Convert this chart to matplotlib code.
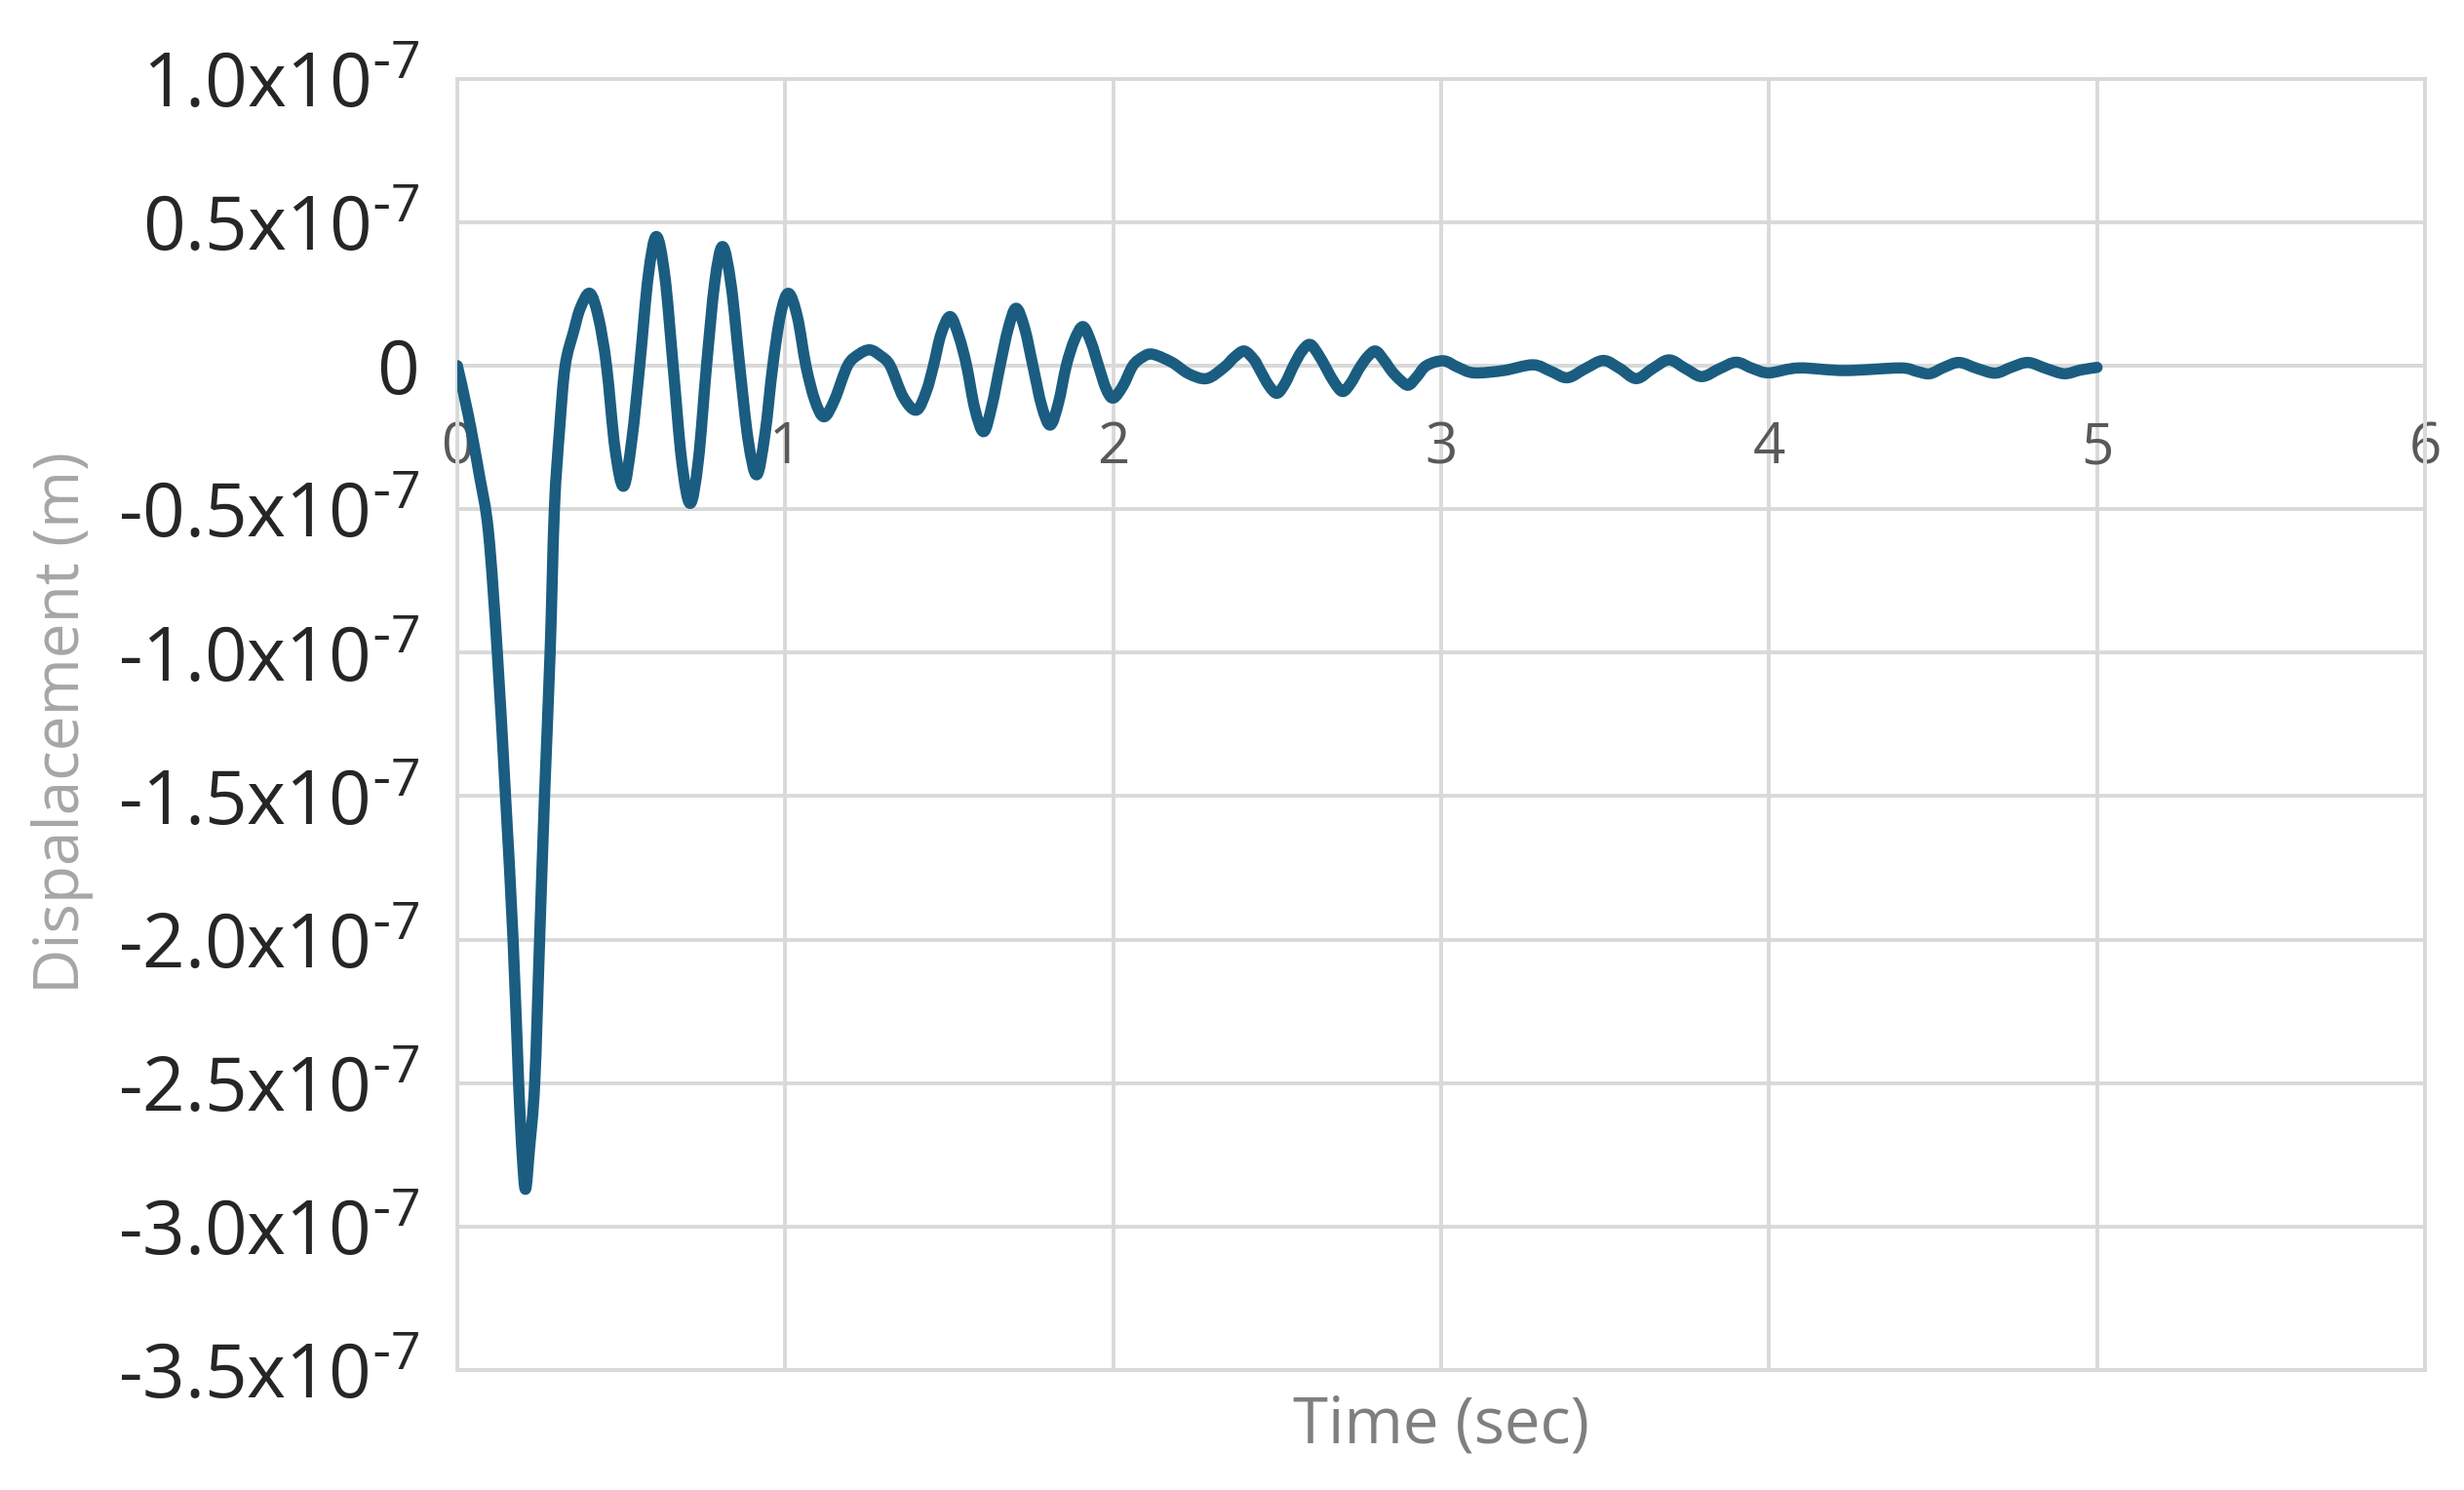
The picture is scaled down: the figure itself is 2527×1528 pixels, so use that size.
import numpy as np
import matplotlib
matplotlib.use("Agg")
import matplotlib.pyplot as plt
from matplotlib.path import Path
from matplotlib.patches import PathPatch

plt.rcParams['font.family'] = ['Open Sans', 'DejaVu Sans']
plt.rcParams['mathtext.default'] = 'regular'

# ---- data (displacement in units of 1e-7 m) ----
time_s = [
    0.000, 0.033, 0.067, 0.095, 0.122, 0.147, 0.170, 0.187, 0.198, 0.208,
    0.220, 0.236, 0.251, 0.266, 0.283, 0.296, 0.312, 0.329, 0.355, 0.375,
    0.404, 0.430, 0.455, 0.481, 0.507, 0.532, 0.557, 0.582, 0.607, 0.633,
    0.658, 0.684, 0.710, 0.735, 0.760, 0.785, 0.809, 0.835, 0.861, 0.887,
    0.913, 0.938, 0.962, 0.986, 1.010, 1.037, 1.063, 1.090, 1.118, 1.150,
    1.190, 1.225, 1.258, 1.290, 1.320, 1.360, 1.400, 1.430, 1.452, 1.475,
    1.503, 1.530, 1.553, 1.578, 1.605, 1.630, 1.655, 1.680, 1.704, 1.730,
    1.755, 1.782, 1.808, 1.833, 1.857, 1.882, 1.908, 1.933, 1.955, 1.978,
    2.000, 2.030, 2.060, 2.090, 2.120, 2.180, 2.230, 2.285, 2.338, 2.370,
    2.400, 2.430, 2.445, 2.475, 2.500, 2.525, 2.550, 2.575, 2.600, 2.625,
    2.650, 2.675, 2.700, 2.725, 2.750, 2.775, 2.800, 2.825, 2.850, 2.875,
    2.900, 2.925, 2.955, 3.007, 3.050, 3.100, 3.190, 3.280, 3.335, 3.385,
    3.440, 3.495, 3.545, 3.595, 3.645, 3.695, 3.745, 3.795, 3.850, 3.900,
    3.950, 4.000, 4.090, 4.230, 4.400, 4.450, 4.490, 4.535, 4.580, 4.635,
    4.690, 4.740, 4.790, 4.845, 4.900, 4.950, 5.000,
]
disp_e7 = [
    0.000, -0.170, -0.380, -0.580, -1.000, -1.500, -2.000, -2.500, -2.750, -2.870,
    -2.730, -2.500, -2.000, -1.500, -1.000, -0.500, -0.220, 0.000, 0.120, 0.200,
    0.252, 0.170, 0.000, -0.290, -0.420, -0.260, 0.010, 0.310, 0.450, 0.310,
    0.000, -0.330, -0.480, -0.330, 0.000, 0.290, 0.415, 0.280, 0.000, -0.260,
    -0.380, -0.240, 0.000, 0.180, 0.252, 0.170, 0.000, -0.120, -0.178, -0.120,
    0.000, 0.040, 0.055, 0.035, 0.000, -0.110, -0.155, -0.090, 0.000, 0.110,
    0.171, 0.100, 0.000, -0.150, -0.230, -0.140, 0.000, 0.130, 0.200, 0.130,
    0.000, -0.140, -0.207, -0.130, 0.000, 0.090, 0.136, 0.080, 0.000, -0.080,
    -0.113, -0.070, 0.000, 0.030, 0.040, 0.011, -0.028, -0.045, -0.006, 0.030,
    0.051, 0.020, -0.010, -0.070, -0.096, -0.060, 0.000, 0.050, 0.074, 0.040,
    -0.010, -0.060, -0.090, -0.060, -0.010, 0.030, 0.051, 0.020, -0.020, -0.050,
    -0.068, -0.040, 0.000, 0.017, -0.005, -0.025, -0.017, 0.003, -0.020, -0.042,
    -0.010, 0.018, -0.010, -0.045, -0.010, 0.020, -0.010, -0.038, -0.010, 0.012,
    -0.010, -0.025, -0.008, -0.017, -0.008, -0.020, -0.028, -0.005, 0.011, -0.010,
    -0.026, -0.005, 0.011, -0.010, -0.028, -0.015, -0.006,
]

x_ticks = [0, 1, 2, 3, 4, 5, 6]
x_ticklabels = ['0', '1', '2', '3', '4', '5', '6']
y_ticks_e7 = [1.0, 0.5, 0.0, -0.5, -1.0, -1.5, -2.0, -2.5, -3.0, -3.5]
y_ticklabels = [r'1.0x10$^{\text{-}7}$', r'0.5x10$^{\text{-}7}$', '0',
                r'-0.5x10$^{\text{-}7}$', r'-1.0x10$^{\text{-}7}$',
                r'-1.5x10$^{\text{-}7}$', r'-2.0x10$^{\text{-}7}$',
                r'-2.5x10$^{\text{-}7}$', r'-3.0x10$^{\text{-}7}$',
                r'-3.5x10$^{\text{-}7}$']
x_label = 'Time (sec)'
y_label = 'Dispalacement (m)'

# ---- figure ----
W, H = 2527, 1528
fig = plt.figure(figsize=(W / 100, H / 100), dpi=100)
L, R, T, B = 469, 2487, 80.7, 1405
ax = fig.add_axes([L / W, 1 - B / H, (R - L) / W, (B - T) / H])

grid_c = '#d9d9d9'
grid_lw = 2.8

# smoothed line (like a spreadsheet "smoothed line" series) through the points
pts = np.column_stack([np.array(time_s), np.array(disp_e7) * 1e-7])
verts = [pts[0]]
codes = [Path.MOVETO]
n = len(pts)
for i in range(n - 1):
    p0 = pts[i - 1] if i > 0 else pts[i]
    p1 = pts[i]
    p2 = pts[i + 1]
    p3 = pts[i + 2] if i + 2 < n else pts[i + 1]
    verts += [p1 + (p2 - p0) / 6.0, p2 - (p3 - p1) / 6.0, p2]
    codes += [Path.CURVE4] * 3
curve = PathPatch(Path(verts, codes), fill=False, edgecolor='#1a5d80',
                  lw=8.3, joinstyle='round', capstyle='round', zorder=5,
                  transform=ax.transData)
ax.add_patch(curve)

ax.set_xlim(0, 6)
ax.set_ylim(-3.5e-7, 1.0e-7)
ax.set_xticks(x_ticks)
ax.set_xticklabels(x_ticklabels)
ax.set_yticks(np.array(y_ticks_e7) * 1e-7)
ax.set_yticklabels(y_ticklabels)

ax.grid(True, color=grid_c, lw=grid_lw)
ax.set_axisbelow(True)

for s in ['top', 'left', 'right']:
    ax.spines[s].set_color(grid_c)
    ax.spines[s].set_linewidth(grid_lw)
ax.spines['bottom'].set_position(('data', 0))
ax.spines['bottom'].set_color(grid_c)
ax.spines['bottom'].set_linewidth(grid_lw)
ax.axhline(-3.5e-7, color=grid_c, lw=grid_lw, clip_on=False, zorder=1)

ax.tick_params(axis='x', length=0, pad=40, labelsize=42, labelcolor='#595959')
ax.tick_params(axis='y', length=0, pad=28, labelsize=55, labelcolor='#262626')

fig.text(1478 / W, 1 - 1463 / H, x_label, ha='center', va='center',
         fontsize=47, color='#7f7f7f')
fig.text(64 / W, 1 - 741 / H, y_label, ha='center', va='center',
         rotation=90, fontsize=46, color='#a6a6a6')

fig.savefig('out.png', dpi=100, facecolor='white')
